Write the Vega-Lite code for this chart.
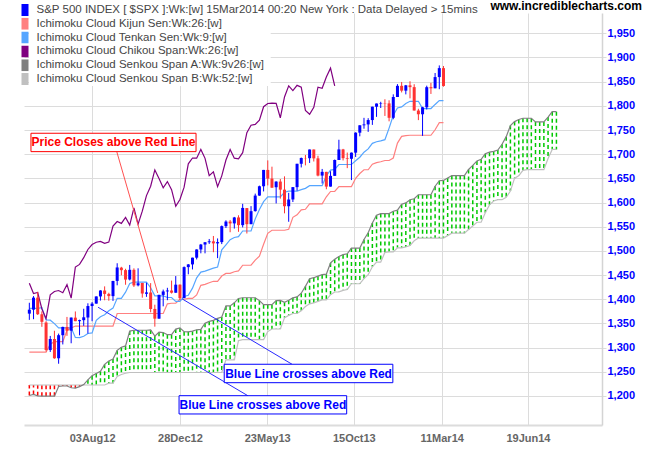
{
"$schema":"https://vega.github.io/schema/vega-lite/v6.json",
"width":578,"height":412,"autosize":"none",
"padding":{"left":24,"top":13,"right":48,"bottom":25},
"background":"white",
"title":{"text":"www.incrediblecharts.com","anchor":"end","frame":"group","dx":40,"dy":20,"offset":2,"baseline":"alphabetic","fontSize":12,"fontWeight":"bold","color":"#000000","font":"Liberation Sans"},
"datasets":{
"w":[
{"i":-15,"o":1370.3,"h":1392.8,"l":1357.4,"c":1378.5,"t":1381.2,"k":1290.5,"ch":1433.2,"a":1201,"b":1222.7},
{"i":-14,"o":1378.5,"h":1406.6,"l":1358.8,"c":1403.4,"t":1381.2,"k":1290.5,"ch":1411.9,"a":1203.2,"b":1222.7},
{"i":-13,"o":1403.4,"h":1415.3,"l":1367.6,"c":1369.1,"t":1381.2,"k":1290.5,"ch":1414.2,"a":1200.4,"b":1222.7},
{"i":-12,"o":1369,"h":1375,"l":1343,"c":1353.4,"t":1382.7,"k":1290.5,"ch":1379.9,"a":1199.7,"b":1222.7},
{"i":-11,"o":1351.9,"h":1354.7,"l":1292,"c":1295.2,"t":1357.2,"k":1290.5,"ch":1359.9,"a":1199.7,"b":1222.7},
{"i":-10,"o":1295,"h":1324.2,"l":1291,"c":1317.8,"t":1356.7,"k":1307.1,"ch":1409.2,"a":1199.7,"b":1222.7},
{"i":-9,"o":1317.8,"h":1334.9,"l":1277,"c":1278,"t":1349.7,"k":1312.4,"ch":1416.2,"a":1199.7,"b":1222.7},
{"i":-8,"o":1278,"h":1329,"l":1266.7,"c":1325.7,"t":1341,"k":1312.4,"ch":1418.1,"a":1219.6,"b":1222.7},
{"i":-7,"o":1325.7,"h":1343.3,"l":1306.6,"c":1342.8,"t":1341,"k":1312.4,"ch":1413.6,"a":1220.7,"b":1222.7},
{"i":-6,"o":1342.8,"h":1363.5,"l":1324.4,"c":1335,"t":1341,"k":1335.5,"ch":1430.2,"a":1220.7,"b":1222.7},
{"i":-5,"o":1335,"h":1362.2,"l":1309,"c":1362.2,"t":1341,"k":1340.6,"ch":1402.4,"a":1217,"b":1222.7},
{"i":-4,"o":1362,"h":1374.8,"l":1354.7,"c":1354.7,"t":1320.9,"k":1344.6,"ch":1466.5,"a":1216.3,"b":1222.7},
{"i":-3,"o":1354.7,"h":1357.8,"l":1325.4,"c":1356.8,"t":1320.8,"k":1344.6,"ch":1472.1,"a":1219.4,"b":1222.7},
{"i":-2,"o":1356.8,"h":1380.4,"l":1345,"c":1362.7,"t":1323.6,"k":1344.6,"ch":1486,"a":1223.5,"b":1222.7},
{"i":-1,"o":1362.3,"h":1391.7,"l":1329.2,"c":1386,"t":1329.2,"k":1344.6,"ch":1503,"a":1233.5,"b":1222.7},
{"i":0,"o":1386,"h":1394.2,"l":1354.6,"c":1391,"t":1330.5,"k":1344.6,"ch":1513.2,"a":1242,"b":1222.7},
{"i":1,"o":1391,"h":1405.9,"l":1391,"c":1405.9,"t":1356.3,"k":1344.6,"ch":1517.9,"a":1246.5,"b":1222.7},
{"i":2,"o":1405.9,"h":1418.7,"l":1397.3,"c":1418.2,"t":1363.9,"k":1344.6,"ch":1519.8,"a":1251,"b":1222.7},
{"i":3,"o":1418.1,"h":1426.7,"l":1398,"c":1411.1,"t":1367.9,"k":1344.6,"ch":1515.6,"a":1265.4,"b":1222.7},
{"i":4,"o":1411.1,"h":1413.5,"l":1397,"c":1406.6,"t":1376.1,"k":1344.6,"ch":1518.2,"a":1272.5,"b":1226.4},
{"i":5,"o":1406.5,"h":1438,"l":1396.6,"c":1437.9,"t":1381.7,"k":1344.6,"ch":1551.2,"a":1276.3,"b":1226.4},
{"i":6,"o":1438,"h":1474.5,"l":1428.9,"c":1465.8,"t":1401.9,"k":1370.6,"ch":1560.7,"a":1294.3,"b":1240.4},
{"i":7,"o":1465.4,"h":1467.1,"l":1449.6,"c":1460.2,"t":1401.9,"k":1370.6,"ch":1556.9,"a":1300.9,"b":1244.4},
{"i":8,"o":1460.3,"h":1463.1,"l":1430,"c":1440.7,"t":1414.6,"k":1370.6,"ch":1569.2,"a":1303.5,"b":1247},
{"i":9,"o":1440.9,"h":1471,"l":1439,"c":1460.9,"t":1432.8,"k":1370.6,"ch":1553.3,"a":1334.2,"b":1248.6},
{"i":10,"o":1460.9,"h":1464,"l":1425.5,"c":1428.6,"t":1435.6,"k":1370.6,"ch":1588.9,"a":1335.9,"b":1248.6},
{"i":11,"o":1428.8,"h":1464,"l":1426.7,"c":1433.2,"t":1435.6,"k":1370.6,"ch":1555.3,"a":1335.9,"b":1248.6},
{"i":12,"o":1433.7,"h":1434,"l":1403.3,"c":1411.9,"t":1435.6,"k":1370.6,"ch":1582.2,"a":1335.9,"b":1248.6},
{"i":13,"o":1411.3,"h":1434.3,"l":1405,"c":1414.2,"t":1435.6,"k":1370.6,"ch":1614.4,"a":1335.9,"b":1248.6},
{"i":14,"o":1414,"h":1433.4,"l":1373,"c":1379.9,"t":1423.8,"k":1370.6,"ch":1633.7,"a":1336.6,"b":1248.6},
{"i":15,"o":1380,"h":1388.8,"l":1343.4,"c":1359.9,"t":1407.2,"k":1370.6,"ch":1667.5,"a":1323.9,"b":1248.6},
{"i":16,"o":1359.9,"h":1409.2,"l":1359.9,"c":1409.2,"t":1407.2,"k":1370.6,"ch":1649.6,"a":1331.9,"b":1248.6},
{"i":17,"o":1409,"h":1420,"l":1385.4,"c":1416.2,"t":1407.2,"k":1370.6,"ch":1630.7,"a":1331.1,"b":1248.6},
{"i":18,"o":1416.3,"h":1423.7,"l":1398.1,"c":1418.1,"t":1403.7,"k":1390.6,"ch":1643.4,"a":1326.7,"b":1248.6},
{"i":19,"o":1418.1,"h":1438.6,"l":1411.9,"c":1413.6,"t":1403.7,"k":1391.8,"ch":1626.7,"a":1326.7,"b":1248.6},
{"i":20,"o":1413.5,"h":1448,"l":1413.5,"c":1430.2,"t":1395.7,"k":1391.8,"ch":1592.4,"a":1338.3,"b":1248.6},
{"i":21,"o":1430.2,"h":1430.7,"l":1398.1,"c":1402.4,"t":1395.7,"k":1400,"ch":1606.3,"a":1340.8,"b":1248.6},
{"i":22,"o":1402.4,"h":1467.9,"l":1402.4,"c":1466.5,"t":1405.7,"k":1400,"ch":1631.9,"a":1332.8,"b":1248.6},
{"i":23,"o":1466.5,"h":1472.8,"l":1451.6,"c":1472.1,"t":1408.1,"k":1401.9,"ch":1680.2,"a":1332.7,"b":1248.6},
{"i":24,"o":1472.1,"h":1486,"l":1461.7,"c":1486,"t":1423,"k":1401.9,"ch":1692.1,"a":1334.1,"b":1248.6},
{"i":25,"o":1486,"h":1503.3,"l":1482.4,"c":1503,"t":1444.4,"k":1409,"ch":1691.7,"a":1336.9,"b":1248.6},
{"i":26,"o":1503,"h":1514.4,"l":1495,"c":1513.2,"t":1456.3,"k":1428.9,"ch":1709.7,"a":1337.6,"b":1248.6},
{"i":27,"o":1513.2,"h":1518.3,"l":1495,"c":1517.9,"t":1458.2,"k":1430.9,"ch":1691.4,"a":1350.5,"b":1248.6},
{"i":28,"o":1517.9,"h":1524.7,"l":1514.4,"c":1519.8,"t":1461.4,"k":1434.1,"ch":1655.8,"a":1354.3,"b":1248.6},
{"i":29,"o":1519.8,"h":1530.9,"l":1497.3,"c":1515.6,"t":1464.5,"k":1437.2,"ch":1663.5,"a":1356.3,"b":1248.6},
{"i":30,"o":1515.6,"h":1525.8,"l":1485,"c":1518.2,"t":1466.7,"k":1437.2,"ch":1633,"a":1360.4,"b":1248.6},
{"i":31,"o":1518.2,"h":1552.5,"l":1514.1,"c":1551.2,"t":1502.1,"k":1448,"ch":1655.2,"a":1363.2,"b":1248.6},
{"i":32,"o":1551.2,"h":1563.3,"l":1547.4,"c":1560.7,"t":1512.5,"k":1453.4,"ch":1688,"a":1386.3,"b":1274.7},
{"i":33,"o":1560.7,"h":1564,"l":1538.6,"c":1556.9,"t":1523.2,"k":1453.7,"ch":1709.9,"a":1386.3,"b":1274.7},
{"i":34,"o":1556.9,"h":1570.3,"l":1546.2,"c":1569.2,"t":1527.7,"k":1456.9,"ch":1691.8,"a":1392.6,"b":1274.7},
{"i":35,"o":1569.2,"h":1573.7,"l":1539.5,"c":1553.3,"t":1529.4,"k":1458.6,"ch":1690.5,"a":1401.7,"b":1314.3},
{"i":36,"o":1553.3,"h":1597.4,"l":1548.6,"c":1588.9,"t":1541.2,"k":1470.4,"ch":1703.2,"a":1403.1,"b":1316.6},
{"i":37,"o":1588.6,"h":1588.6,"l":1536,"c":1555.3,"t":1541.2,"k":1470.4,"ch":1744.5,"a":1403.1,"b":1316.6},
{"i":38,"o":1555.3,"h":1592.6,"l":1555.3,"c":1582.2,"t":1541.2,"k":1470.4,"ch":1759.8,"a":1403.1,"b":1316.6},
{"i":39,"o":1582.3,"h":1618.5,"l":1581.3,"c":1614.4,"t":1566.3,"k":1481,"ch":1761.6,"a":1403.1,"b":1316.6},
{"i":40,"o":1614.4,"h":1635,"l":1614,"c":1633.7,"t":1585.5,"k":1489.2,"ch":1770.6,"a":1397.2,"b":1316.6},
{"i":41,"o":1633.7,"h":1667.5,"l":1623,"c":1667.5,"t":1601.8,"k":1513.7,"ch":1798.2,"a":1388.9,"b":1316.6},
{"i":42,"o":1667.5,"h":1687.2,"l":1635.5,"c":1649.6,"t":1611.6,"k":1536.3,"ch":1804.8,"a":1388.9,"b":1333.2},
{"i":43,"o":1649.6,"h":1674.2,"l":1630.7,"c":1630.7,"t":1611.6,"k":1542.7,"ch":1805.8,"a":1388.9,"b":1338.5},
{"i":44,"o":1631.7,"h":1644,"l":1598.2,"c":1643.4,"t":1611.6,"k":1542.7,"ch":1805.1,"a":1397.2,"b":1338.5},
{"i":45,"o":1643.4,"h":1648.7,"l":1608.1,"c":1626.7,"t":1611.6,"k":1542.7,"ch":1775.3,"a":1397.8,"b":1338.5},
{"i":46,"o":1626.7,"h":1654.2,"l":1577.7,"c":1592.4,"t":1621.3,"k":1542.7,"ch":1818.3,"a":1393.8,"b":1361.6},
{"i":47,"o":1592.4,"h":1620.1,"l":1560.3,"c":1606.3,"t":1623.8,"k":1544.8,"ch":1841.4,"a":1397.9,"b":1366.7},
{"i":48,"o":1606.4,"h":1631.9,"l":1601.1,"c":1631.9,"t":1623.8,"k":1569.4,"ch":1831.4,"a":1402.9,"b":1370.6},
{"i":49,"o":1631.9,"h":1680.2,"l":1624.6,"c":1680.2,"t":1623.8,"k":1574.5,"ch":1842.4,"a":1405,"b":1370.6},
{"i":50,"o":1680.2,"h":1693.1,"l":1672.6,"c":1692.1,"t":1626.7,"k":1584.8,"ch":1838.7,"a":1412.5,"b":1376.4},
{"i":51,"o":1692.1,"h":1698.4,"l":1676.9,"c":1691.7,"t":1629.4,"k":1586.1,"ch":1790.3,"a":1426.7,"b":1385},
{"i":52,"o":1691.7,"h":1709.7,"l":1681.9,"c":1709.7,"t":1635,"k":1597.4,"ch":1782.6,"a":1442.6,"b":1390.6},
{"i":53,"o":1709.7,"h":1709.7,"l":1684.9,"c":1691.4,"t":1635,"k":1597.4,"ch":1797,"a":1444.6,"b":1392.5},
{"i":54,"o":1691.4,"h":1696.8,"l":1654.2,"c":1655.8,"t":1635,"k":1597.4,"ch":1838.6,"a":1447.8,"b":1395.7},
{"i":55,"o":1655.8,"h":1669.5,"l":1639.4,"c":1663.5,"t":1635,"k":1597.4,"ch":1836.3,"a":1450.9,"b":1398.8},
{"i":56,"o":1663.5,"h":1663.5,"l":1627.5,"c":1633,"t":1655.4,"k":1611.9,"ch":1859.5,"a":1452,"b":1398.8},
{"i":57,"o":1633,"h":1664.8,"l":1633,"c":1655.2,"t":1667.2,"k":1622.9,"ch":1878,"a":1475.1,"b":1409.6},
{"i":58,"o":1655.2,"h":1689,"l":1655.2,"c":1688,"t":1668.6,"k":1622.9,"ch":1841.1,"a":1483,"b":1415},
{"i":59,"o":1688,"h":1729.9,"l":1688,"c":1709.9,"t":1678.7,"k":1633,"a":1488.5,"b":1415.4},
{"i":60,"o":1709.9,"h":1711,"l":1687.1,"c":1691.8,"t":1678.7,"k":1633,"a":1492.3,"b":1418.5},
{"i":61,"o":1691.8,"h":1703.4,"l":1671.2,"c":1690.5,"t":1678.7,"k":1633,"a":1494,"b":1420.2},
{"i":62,"o":1690.5,"h":1703.5,"l":1646.5,"c":1703.2,"t":1678.7,"k":1633,"a":1505.8,"b":1432.1},
{"i":63,"o":1703.2,"h":1745.3,"l":1694.3,"c":1744.5,"t":1686.4,"k":1650.3,"a":1505.8,"b":1432.1},
{"i":64,"o":1744.5,"h":1759.8,"l":1737,"c":1759.8,"t":1693.7,"k":1660.1,"a":1505.8,"b":1432.1},
{"i":65,"o":1759.8,"h":1775.2,"l":1752.7,"c":1761.6,"t":1704.1,"k":1667.8,"a":1523.7,"b":1442.6},
{"i":66,"o":1761.6,"h":1774.5,"l":1746.2,"c":1770.6,"t":1710.9,"k":1667.8,"a":1537.4,"b":1450.9},
{"i":67,"o":1770.6,"h":1798.2,"l":1760.6,"c":1798.2,"t":1722.4,"k":1679.3,"a":1557.8,"b":1467.1},
{"i":68,"o":1798.2,"h":1804.8,"l":1777.2,"c":1804.8,"t":1725.7,"k":1682.6,"a":1574,"b":1477},
{"i":69,"o":1804.8,"h":1808.4,"l":1795.6,"c":1805.8,"t":1727.5,"k":1684.4,"a":1577.2,"b":1477},
{"i":70,"o":1805.8,"h":1813.6,"l":1779.1,"c":1805.1,"t":1730.1,"k":1687,"a":1577.2,"b":1496.9},
{"i":71,"o":1805.1,"h":1811.5,"l":1768,"c":1775.3,"t":1754,"k":1687,"a":1577.2,"b":1498.1},
{"i":72,"o":1775.3,"h":1823.8,"l":1772.3,"c":1818.3,"t":1780.4,"k":1692.1,"a":1582,"b":1498.1},
{"i":73,"o":1818.3,"h":1844.9,"l":1818.3,"c":1841.4,"t":1795.6,"k":1723,"a":1584.3,"b":1506.3},
{"i":74,"o":1841.4,"h":1849.4,"l":1827.7,"c":1831.4,"t":1797.8,"k":1737,"a":1596.6,"b":1506.3},
{"i":75,"o":1831.4,"h":1843.2,"l":1823.7,"c":1842.4,"t":1805,"k":1738.5,"a":1599.2,"b":1508.2},
{"i":76,"o":1842.4,"h":1850.8,"l":1815.5,"c":1838.7,"t":1809.4,"k":1739.2,"a":1605.8,"b":1511.2},
{"i":77,"o":1838.7,"h":1844.7,"l":1790.3,"c":1790.3,"t":1809.4,"k":1739.2,"a":1607.8,"b":1520.9},
{"i":78,"o":1790.3,"h":1793.9,"l":1770.5,"c":1782.6,"t":1809.4,"k":1739.2,"a":1616.2,"b":1526.6},
{"i":79,"o":1782.6,"h":1798,"l":1737.9,"c":1797,"t":1794.4,"k":1739.2,"a":1616.2,"b":1526.6},
{"i":80,"o":1797,"h":1841.7,"l":1792.5,"c":1838.6,"t":1794.4,"k":1739.2,"a":1616.2,"b":1526.6},
{"i":81,"o":1838.6,"h":1847.5,"l":1824.6,"c":1836.3,"t":1794.4,"k":1739.2,"a":1616.2,"b":1526.6},
{"i":82,"o":1836.3,"h":1867.9,"l":1836.3,"c":1859.5,"t":1802.9,"k":1750.5,"a":1633.7,"b":1526.6},
{"i":83,"o":1859.5,"h":1883.6,"l":1834.4,"c":1878,"t":1810.8,"k":1765.1,"a":1645.1,"b":1526.6},
{"i":84,"o":1878,"h":1882.4,"l":1839.6,"c":1841.1,"t":1810.8,"k":1765.1,"a":1645.8,"b":1526.6},
{"i":85,"a":1650.8,"b":1531.6},
{"i":86,"a":1655.9,"b":1536.7},{"i":87,"a":1655.9,"b":1536.7},{"i":88,"a":1655.9,"b":1536.7},{"i":89,"a":1655.9,"b":1536.7},
{"i":90,"a":1668.4,"b":1544.4},{"i":91,"a":1676.9,"b":1551.6},{"i":92,"a":1686,"b":1559.3},{"i":93,"a":1689.4,"b":1559.3},
{"i":94,"a":1700.9,"b":1579.1},{"i":95,"a":1704.2,"b":1595.1},{"i":96,"a":1706,"b":1603.3},{"i":97,"a":1708.6,"b":1605.9},
{"i":98,"a":1720.5,"b":1605.9},{"i":99,"a":1736.3,"b":1611},{"i":100,"a":1759.3,"b":1623.7},{"i":101,"a":1767.4,"b":1650.5},
{"i":102,"a":1771.8,"b":1655.6},{"i":103,"a":1774.3,"b":1666.6},{"i":104,"a":1774.3,"b":1667.9},{"i":105,"a":1774.3,"b":1667.9},
{"i":106,"a":1766.8,"b":1667.9},{"i":107,"a":1766.8,"b":1667.9},{"i":108,"a":1766.8,"b":1667.9},{"i":109,"a":1776.7,"b":1691},
{"i":110,"a":1788,"b":1709.8},{"i":111,"a":1788,"b":1709.8}
],
"panel":[{"i":-15.08,"i2":42.7,"v":1992,"v2":1841}],
"lines":[
{"n":"p","i":5.9,"v":1705.3,"i2":15.69,"v2":1413},
{"n":"b","i":21.56,"v":1400.6,"i2":47.8,"v2":1265.6},
{"n":"b","i":1.43,"v":1383.5,"i2":37.23,"v2":1200.6}
],
"boxes":[
{"n":"p","i":-14.61,"i2":24.85,"v":1743.3,"v2":1705.3},
{"n":"b","i":31.59,"i2":71.9,"v":1265.6,"v2":1227.5},
{"n":"b","i":20.79,"i2":60.86,"v":1200.6,"v2":1162.8}
],
"texts":[
{"n":"p","i":5.12,"v":1724.3,"t":"Price Closes above Red Line"},
{"n":"b","i":51.75,"v":1246.5,"t":"Blue Line crosses above Red"},
{"n":"b","i":40.83,"v":1181.7,"t":"Blue Line crosses above Red"}
]
},
"encoding":{"x":{"field":"i","type":"quantitative","title":null,
 "scale":{"domain":[-15.08,120.7],"nice":false,"zero":false},
 "axis":{"values":[0,21,41.857,62.571,83.571,104.2],
  "labelExpr":"datum.value<10?'03Aug12':datum.value<30?'28Dec12':datum.value<50?'23May13':datum.value<70?'15Oct13':datum.value<90?'11Mar14':'19Jun14'"}}},
"layer":[
{"data":{"values":[{}]},"mark":{"type":"rule","color":"#dcdcdc","strokeWidth":1},
 "encoding":{"x":{"datum":-15.08,"type":"quantitative"}}},
{"data":{"name":"panel"},
 "mark":{"type":"rect","fill":"white","strokeWidth":0},
 "encoding":{
  "x2":{"field":"i2"},
  "y":{"field":"v","type":"quantitative","title":null,"scale":{"domain":[1140,1992],"nice":false,"zero":false},
   "axis":{"values":[1200,1250,1300,1350,1400,1450,1500,1550,1600,1650,1700,1750,1800,1850,1900,1950],"format":",d","labelOverlap":false}},
  "y2":{"field":"v2"}}},
{"data":{"name":"w"},
 "mark":{"type":"rule","strokeDash":[4,3],"strokeWidth":1.5},
 "encoding":{
  "y":{"field":"a","type":"quantitative","title":null,"scale":{"domain":[1140,1992],"nice":false,"zero":false},
   "axis":{"values":[1200,1250,1300,1350,1400,1450,1500,1550,1600,1650,1700,1750,1800,1850,1900,1950],"format":",d","labelOverlap":false}},
  "y2":{"field":"b"},
  "color":{"condition":{"test":"datum.a>=datum.b","value":"#00c800"},"value":"#ff0000"}}},
{"data":{"name":"w"},
 "transform":[{"fold":["b","a","k","t","ch"],"as":["s","v"]}],
 "mark":{"type":"line","strokeWidth":1.2},
 "encoding":{
  "y":{"field":"v","type":"quantitative","title":null,"scale":{"domain":[1140,1992],"nice":false,"zero":false},
   "axis":{"values":[1200,1250,1300,1350,1400,1450,1500,1550,1600,1650,1700,1750,1800,1850,1900,1950],"format":",d","labelOverlap":false}},
  "color":{"field":"s","type":"nominal",
   "scale":{"domain":["spx","k","t","ch","a","b"],"range":["#0000ff","#ff8080","#55a5ff","#800080","#808080","#c0c0c0"]},
   "legend":{"orient":"none","legendX":-8.5,"legendY":-9,"title":null,"padding":0,
    "symbolType":"M0,-1V1","symbolSize":144,"symbolStrokeWidth":7,"symbolOpacity":1,"clipHeight":12,
    "labelFont":"Liberation Sans","labelFontSize":11.5,"labelColor":"#454545","labelLimit":600,"labelOffset":2,"rowPadding":1.8,
    "labelExpr":"datum.value=='spx'?'S&P 500 INDEX [ $SPX ]:Wk:[w]  15Mar2014 00:20 New York : Data Delayed > 15mins':datum.value=='k'?'Ichimoku Cloud Kijun Sen:Wk:26:[w]':datum.value=='t'?'Ichimoku Cloud Tenkan Sen:Wk:9:[w]':datum.value=='ch'?'Ichimoku Cloud Chikou Span:Wk:26:[w]':datum.value=='a'?'Ichimoku Cloud Senkou Span A:Wk:9v26:[w]':'Ichimoku Cloud Senkou Span B:Wk:52:[w]'"}}}},
{"data":{"name":"w"},"transform":[{"filter":"isValid(datum.o)"}],
 "mark":{"type":"rule","strokeWidth":1},
 "encoding":{
  "y":{"field":"l","type":"quantitative","title":null,"scale":{"domain":[1140,1992],"nice":false,"zero":false},
   "axis":{"values":[1200,1250,1300,1350,1400,1450,1500,1550,1600,1650,1700,1750,1800,1850,1900,1950],"format":",d","labelOverlap":false}},
  "y2":{"field":"h"},
  "color":{"condition":{"test":"datum.c>=datum.o","value":"#0000ff"},"value":"#ff3333"}}},
{"data":{"name":"w"},"transform":[{"filter":"isValid(datum.o)"}],
 "mark":{"type":"bar","size":3},
 "encoding":{
  "y":{"field":"o","type":"quantitative","title":null,"scale":{"domain":[1140,1992],"nice":false,"zero":false},
   "axis":{"values":[1200,1250,1300,1350,1400,1450,1500,1550,1600,1650,1700,1750,1800,1850,1900,1950],"format":",d","labelOverlap":false}},
  "y2":{"field":"c"},
  "color":{"condition":{"test":"datum.c>=datum.o","value":"#0000ff"},"value":"#ff3333"}}},
{"data":{"name":"lines"},
 "mark":{"type":"rule","strokeWidth":1},
 "encoding":{
  "x2":{"field":"i2"},
  "y":{"field":"v","type":"quantitative","title":null,"scale":{"domain":[1140,1992],"nice":false,"zero":false},
   "axis":{"values":[1200,1250,1300,1350,1400,1450,1500,1550,1600,1650,1700,1750,1800,1850,1900,1950],"format":",d","labelOverlap":false}},
  "y2":{"field":"v2"},
  "color":{"condition":{"test":"datum.n=='p'","value":"#ff5050"},"value":"#2828ff"}}},
{"data":{"name":"boxes"},
 "mark":{"type":"rect","fill":"white","strokeWidth":1},
 "encoding":{
  "x2":{"field":"i2"},
  "y":{"field":"v","type":"quantitative","title":null,"scale":{"domain":[1140,1992],"nice":false,"zero":false},
   "axis":{"values":[1200,1250,1300,1350,1400,1450,1500,1550,1600,1650,1700,1750,1800,1850,1900,1950],"format":",d","labelOverlap":false}},
  "y2":{"field":"v2"},
  "stroke":{"condition":{"test":"datum.n=='p'","value":"#ff0000"},"value":"#0000ff"}}},
{"data":{"name":"texts"},
 "mark":{"type":"text","fontSize":12,"fontWeight":"bold","font":"Liberation Sans","align":"center","baseline":"middle"},
 "encoding":{
  "y":{"field":"v","type":"quantitative","title":null,"scale":{"domain":[1140,1992],"nice":false,"zero":false},
   "axis":{"values":[1200,1250,1300,1350,1400,1450,1500,1550,1600,1650,1700,1750,1800,1850,1900,1950],"format":",d","labelOverlap":false}},
  "text":{"field":"t"},
  "color":{"condition":{"test":"datum.n=='p'","value":"#ff0000"},"value":"#0000ff"}}}
],
"config":{
 "view":{"stroke":null},
 "font":"Liberation Sans",
 "axisX":{"orient":"bottom","grid":true,"gridColor":"#dcdcdc","gridWidth":1,"domainColor":"#dcdcdc","domainWidth":2,"ticks":false,"tickSize":0,"labelPadding":7,"labelFontSize":11,"labelFontWeight":"bold","labelColor":"#666666","labelFont":"Liberation Sans","labelFlush":false,"labelOverlap":false},
 "axisY":{"orient":"right","grid":true,"gridColor":"#dcdcdc","gridWidth":1,"domainColor":"#d4d4d4","domainWidth":1.5,"ticks":true,"tickSize":4,"tickColor":"#dcdcdc","labelPadding":1,"labelFontSize":11,"labelFontWeight":"bold","labelColor":"#0000ff","labelFont":"Liberation Sans","labelFlush":false,"labelOverlap":false,"tickCount":17,"format":",d"}
}
}
